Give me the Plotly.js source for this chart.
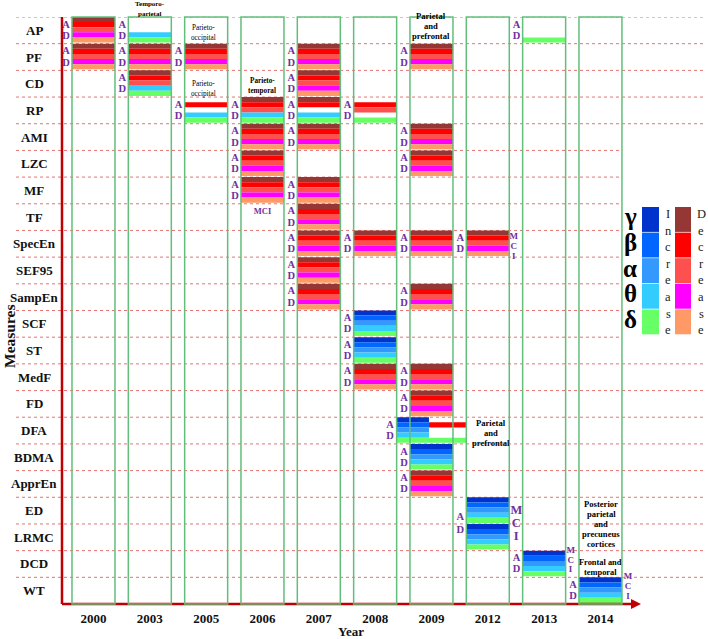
<!DOCTYPE html>
<html><head><meta charset="utf-8">
<script src="https://cdn.plot.ly/plotly-3.0.1.min.js"></script>
<style>html,body{margin:0;padding:0;background:#fff}#chart{width:708px;height:639px}</style>
</head><body><div id="chart"></div>
<script>
// ---------------- DATA ----------------
const years = ['2000','2003','2005','2006','2007','2008','2009','2012','2013','2014'];
const measures = ['AP','PF','CD','RP','AMI','LZC','MF','TF','SpecEn','SEF95','SampEn','SCF','ST','MedF','FD','DFA','BDMA','ApprEn','ED','LRMC','DCD','WT'];
const bandNames = ['γ','β','α','θ','δ'];
// pattern per band (γ β α θ δ): D = decrease, I = increase, - = none
const cellYears = ['2000','2000','2003','2003','2003','2005','2005','2006','2006','2006','2006',
  '2007','2007','2007','2007','2007','2007','2007','2007','2007',
  '2008','2008','2008','2008','2008',
  '2009','2009','2009','2009','2009','2009','2009','2009','2009','2009','2009',
  '2012','2012','2012','2013','2013','2014'];
const cellMeasures = ['AP','PF','AP','PF','CD','PF','RP','RP','AMI','LZC','MF',
  'PF','CD','RP','AMI','MF','TF','SpecEn','SEF95','SampEn',
  'RP','SpecEn','SCF','ST','MedF',
  'PF','AMI','LZC','SpecEn','SampEn','MedF','FD','DFA','DFA','BDMA','ApprEn',
  'SpecEn','ED','LRMC','AP','DCD','WT'];
const cellPatterns = ['DDDDD','DDDDD','---II','DDDDD','DDDII','DDDDD','-D-II','DDDII','DDDDD','DDDDD','DDDDD',
  'DDDDD','DDDDD','DD-II','DDDDD','DDDDD','DDDDD','DDDDD','DDDDD','DDDDD',
  '-DD-I','DDDDD','IIIII','IIIII','DDDDD',
  'DDDDD','DDDDD','DDDDD','DDDDD','DDDDD','DDDDD','DDDDD','IIIII','-D--I','IIIII','DDDDD',
  'DDDDD','IIIII','IIIII','----I','IIIII','IIIII'];
// MCI annotations (year, measure)
const mciYears = ['2006','2012','2012','2013','2014'];
const mciMeasures = ['MF','SpecEn','ED','DCD','WT'];
// region notes
const noteYears = ['2003','2005','2005','2006','2009','2009','2013','2014'];
const noteTexts = ['Temporo-<br>parietal','Parieto-<br>occipital','Parieto-<br>occipital','Parieto-<br>temporal',
  'Parietal<br>and<br>prefrontal','Parietal<br>and<br>prefrontal','Posterior<br>parietal<br>and<br>precuneus<br>cortices','Frontal and<br>temporal'];
const incLabel = 'Increase', decLabel = 'Decrease';

// ---------------- STYLE / GEOMETRY ----------------
const FONT = '"Liberation Serif","Times New Roman",serif';
const incColors = ['#0033CC','#0066FF','#3399FF','#33CCFF','#66FF66'];
const decColors = ['#953735','#FF0000','#FF5050','#FF00FF','#FF9966'];
const PURPLE = '#7030A0', GREEN = '#63BE7B', RED = '#C00000';
const PXX = 56.33, PXY = 26.68;           // px per x unit / per row
const L = 62, T = 17, W = 578, H = 587;
const COLW = 43 / PXX;
const STRIPE = 0.192, TOP = 0.0;
const ppx = p => (p - L) / W;            // paper x
const ppy = p => (T + H - p) / H;        // paper y
// special placement for the split DFA entries (px shift, px width)
const special = {'2009|DFA|IIIII': [-19, 33], '2009|DFA|-D--I': [16.5, 38]};

// ---------------- BARS ----------------
const traces = [];
const buckets = {};
['D','I'].forEach(d => bandNames.forEach((b, k) => { buckets[d + k] = {x: [], base: [], y: [], width: []}; }));
const adX = [], adY = [], adT = [];
cellYears.forEach((yr, i) => {
  const m = cellMeasures[i], pat = cellPatterns[i];
  let xc = years.indexOf(yr), w = COLW;
  const sp = special[yr + '|' + m + '|' + pat];
  if (sp) { xc += sp[0] / PXX; w = sp[1] / PXX; }
  const r = measures.indexOf(m);
  for (let k = 0; k < 5; k++) {
    const c = pat[k];
    if (c === '-') continue;
    const bk = buckets[c + k];
    bk.x.push(xc); bk.base.push(r + TOP + k * STRIPE); bk.y.push(STRIPE); bk.width.push(w);
  }
  // A/D labels
  if (pat === '-D--I') return;
  if (yr === '2012' && m === 'LRMC') return;
  const lx = xc - w / 2 - 6 / PXX;
  if (yr === '2012' && m === 'ED') {
    adX.push(lx, lx); adY.push(r + 0.75, r + 1.23); adT.push('A', 'D');
  } else {
    adX.push(lx, lx); adY.push(r + 0.3, r + 0.72); adT.push('A', 'D');
  }
});
['D','I'].forEach(d => bandNames.forEach((b, k) => {
  const bk = buckets[d + k];
  traces.push({type: 'bar', x: bk.x, y: bk.y, base: bk.base, width: bk.width,
    marker: {color: (d === 'D' ? decColors : incColors)[k], line: {width: 0}},
    hoverinfo: 'skip', showlegend: false});
}));
traces.push({type: 'scatter', mode: 'text', x: adX, y: adY, text: adT, cliponaxis: false,
  textfont: {family: FONT, size: 10.5, color: PURPLE, weight: 'bold'}, hoverinfo: 'skip', showlegend: false});

// MCI labels
const mX = [], mY = [], mT = [], mS = [];
mciYears.forEach((yr, i) => {
  const xc = years.indexOf(yr), r = measures.indexOf(mciMeasures[i]);
  const right = xc + COLW / 2;
  if (yr === '2006') { mX.push(xc); mY.push(r + 1.3); mT.push('MCI'); mS.push(8.5); return; }
  let offs, dx, sz;
  if (yr === '2012' && mciMeasures[i] === 'SpecEn') { offs = [0.24, 0.61, 0.99]; dx = 4.5; sz = 9; }
  else if (yr === '2012') { offs = [0.52, 1.0, 1.49]; dx = 7; sz = 12.5; }
  else if (yr === '2013') { offs = [0.02, 0.39, 0.73]; dx = 5; sz = 9; }
  else { offs = [-0.02, 0.35, 0.72]; dx = 6; sz = 9; }
  ['M','C','I'].forEach((ch, j) => { mX.push(right + dx / PXX); mY.push(r + offs[j]); mT.push(ch); mS.push(sz); });
});
traces.push({type: 'scatter', mode: 'text', x: mX, y: mY, text: mT, cliponaxis: false,
  textfont: {family: FONT, size: mS, color: PURPLE, weight: 'bold'}, hoverinfo: 'skip', showlegend: false});

// ---------------- SHAPES ----------------
const shapes = [];
for (let k = 0; k < measures.length; k++) {
  const short = k >= 5 && k <= 12;
  shapes.push({type: 'line', xref: 'paper', yref: 'y', x0: ppx(16), x1: short ? ppx(622) : ppx(705), y0: k, y1: k,
    line: {color: '#E57373', width: 1, dash: 'dot'}, layer: 'below'});
}
shapes.push({type: 'line', xref: 'paper', yref: 'paper', x0: 0, x1: 0, y0: 0, y1: 1, line: {color: RED, width: 2.5}});
shapes.push({type: 'line', xref: 'paper', yref: 'paper', x0: 0, x1: 0.985, y0: 0, y1: 0, line: {color: RED, width: 2.5}});
years.forEach((y, i) => {
  shapes.push({type: 'rect', xref: 'x', yref: 'paper', x0: i - COLW / 2, x1: i + COLW / 2, y0: 0, y1: 1,
    line: {color: GREEN, width: 1.5}, fillcolor: 'rgba(0,0,0,0)', layer: 'above'});
});
const bh = 25.6;
for (let k = 0; k < 5; k++) {
  const t = 207 + k * bh;
  shapes.push({type: 'rect', xref: 'paper', yref: 'paper', x0: ppx(642), x1: ppx(659), y0: ppy(t + bh - 0.7), y1: ppy(t),
    fillcolor: incColors[k], line: {width: 0}});
  shapes.push({type: 'rect', xref: 'paper', yref: 'paper', x0: ppx(675), x1: ppx(691), y0: ppy(t + bh - 0.7), y1: ppy(t),
    fillcolor: decColors[k], line: {width: 0}});
}

// ---------------- ANNOTATIONS ----------------
const ann = [];
measures.forEach((m, i) => ann.push({xref: 'paper', yref: 'y', x: ppx(34), y: i + 0.5, text: m, showarrow: false,
  xanchor: 'center', yanchor: 'middle', font: {family: FONT, size: 13, color: '#111', weight: 'bold'}}));
ann.push({xref: 'paper', yref: 'paper', x: ppx(9), y: ppy(337), text: 'Measures', textangle: -90, showarrow: false,
  xanchor: 'center', yanchor: 'middle', font: {family: FONT, size: 15.5, color: '#111', weight: 'bold'}});
ann.push({xref: 'paper', yref: 'paper', x: ppx(641), y: 0, ax: -14, ay: 0, axref: 'pixel', ayref: 'pixel', text: '',
  showarrow: true, arrowhead: 2, arrowsize: 1, arrowwidth: 2, arrowcolor: RED});
const noteCfg = [
  {cy: 9, size: 7, dx: 0}, {cy: 33, size: 7.2, dx: -3, normal: true}, {cy: 88.5, size: 7.2, dx: -3, normal: true},
  {cy: 85.5, size: 7.2, dx: 0}, {cy: 26, size: 8.6, dx: 0}, {cy: 433, size: 8.6, dx: 60},
  {cy: 524, size: 8.6, dx: 57}, {cy: 567, size: 8.4, dx: 0.5}
];
noteTexts.forEach((t, i) => {
  const lines = t.split('<br>');
  const cfg = noteCfg[i];
  const xc = years.indexOf(noteYears[i]) + cfg.dx / PXX;
  lines.forEach((ln, j) => {
    const py = cfg.cy + (j - (lines.length - 1) / 2) * 10;
    ann.push({xref: 'x', yref: 'paper', x: xc, y: ppy(py), text: ln, showarrow: false, xanchor: 'center', yanchor: 'middle',
      font: {family: FONT, size: cfg.size, color: '#000', weight: cfg.normal ? 'normal' : 'bold'}});
  });
});
bandNames.forEach((b, k) => ann.push({xref: 'paper', yref: 'paper', x: ppx(630), y: ppy(207 + k * bh + bh / 2 - 3), text: b,
  showarrow: false, xanchor: 'center', yanchor: 'middle', font: {family: FONT, size: 25, color: '#000', weight: 'bold'}}));
incLabel.split('').forEach((ch, j) => ann.push({xref: 'paper', yref: 'paper', x: ppx(668), y: ppy(214 + j * 16.6), text: ch,
  showarrow: false, xanchor: 'center', yanchor: 'middle', font: {family: FONT, size: 12.5, color: '#222'}}));
decLabel.split('').forEach((ch, j) => ann.push({xref: 'paper', yref: 'paper', x: ppx(701), y: ppy(214 + j * 16.6), text: ch,
  showarrow: false, xanchor: 'center', yanchor: 'middle', font: {family: FONT, size: 12.5, color: '#222'}}));

const layout = {
  width: 708, height: 639, margin: {l: L, r: 708 - L - W, t: T, b: 639 - T - H},
  paper_bgcolor: '#fff', plot_bgcolor: 'rgba(0,0,0,0)', barmode: 'overlay', showlegend: false,
  xaxis: {range: [-0.559, -0.559 + W / PXX], tickvals: years.map((y, i) => i), ticktext: years, ticks: '',
    ticklabelstandoff: 5,
    showgrid: false, zeroline: false, showline: false, fixedrange: true,
    tickfont: {family: FONT, size: 13, color: '#111', weight: 'bold'},
    title: {text: 'Year', font: {family: FONT, size: 13, color: '#111', weight: 'bold'}, standoff: 0}},
  yaxis: {range: [measures.length, 0], showticklabels: false, showgrid: false, zeroline: false, showline: false, fixedrange: true},
  shapes: shapes, annotations: ann
};
Plotly.newPlot('chart', traces, layout, {displayModeBar: false, staticPlot: true});
</script>
</body></html>
